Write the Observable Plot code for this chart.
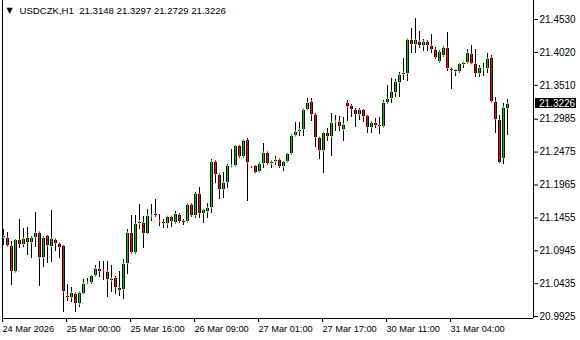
<!DOCTYPE html>
<html><head><meta charset="utf-8">
<script src="https://cdn.jsdelivr.net/npm/d3@7"></script>
<script src="https://cdn.jsdelivr.net/npm/@observablehq/plot@0.6"></script>
<style>
html,body{margin:0;padding:0;background:#fff;overflow:hidden;}
#chart svg{display:block;}
</style></head><body><div id="chart"></div>
<script>
const symbol = "USDCZK";
const timeframe = "H1";
const opens = [21.1146,21.1146,21.1027,21.0613,21.1105,21.1038,21.1146,21.1063,21.1146,21.1224,21.0830,21.1167,21.1001,21.1115,21.1053,21.1012,21.0252,21.0216,21.0278,21.0113,21.0278,21.0433,21.0449,21.0551,21.0666,21.0629,21.0624,21.0474,21.0520,21.0371,21.0340,21.0743,21.1224,21.0908,21.1353,21.1379,21.1208,21.1466,21.1508,21.1404,21.1388,21.1353,21.1466,21.1373,21.1503,21.1399,21.1388,21.1658,21.1481,21.1818,21.1518,21.1543,21.1605,21.2329,21.2123,21.1890,21.1999,21.2241,21.2252,21.2562,21.2396,21.2655,21.2237,21.2252,21.2163,21.2293,21.2464,21.2287,21.2318,21.2355,21.2241,21.2318,21.2438,21.2721,21.2794,21.2825,21.3130,21.3259,21.3053,21.2690,21.2489,21.2768,21.2706,21.2923,21.2949,21.2810,21.3239,21.3182,21.3130,21.3053,21.3120,21.3027,21.2845,21.2929,21.2898,21.2861,21.3233,21.3301,21.3388,21.3543,21.3673,21.3688,21.4215,21.4138,21.4189,21.4112,21.4189,21.4127,21.4065,21.3868,21.3961,21.4091,21.3766,21.3713,21.3713,21.3828,21.3853,21.3988,21.3843,21.3688,21.3750,21.3766,21.3936,21.3259,21.2965,21.2371,21.3148];
const highs = [21.1270,21.1233,21.1089,21.1115,21.1425,21.1295,21.1311,21.1167,21.1543,21.1230,21.1167,21.1170,21.1570,21.1118,21.1063,21.1015,21.0423,21.0381,21.0290,21.0297,21.0500,21.0520,21.0562,21.0717,21.0779,21.0779,21.0779,21.0717,21.0547,21.0624,21.0805,21.1270,21.1492,21.1492,21.1658,21.1481,21.1580,21.1658,21.1735,21.1508,21.1430,21.1477,21.1477,21.1559,21.1518,21.1430,21.1660,21.1673,21.1844,21.1921,21.1580,21.1683,21.2360,21.2332,21.2138,21.2163,21.2283,21.2515,21.2566,21.2577,21.2655,21.2690,21.2240,21.2267,21.2309,21.2603,21.2473,21.2345,21.2407,21.2358,21.2329,21.2448,21.2743,21.2929,21.2929,21.3135,21.3301,21.3310,21.3073,21.2706,21.2783,21.2836,21.3068,21.3042,21.3027,21.3016,21.3270,21.3213,21.3146,21.3146,21.3130,21.3042,21.2949,21.3003,21.3006,21.3275,21.3507,21.3611,21.3595,21.3713,21.3921,21.4218,21.4386,21.4541,21.4349,21.4215,21.4205,21.4298,21.4091,21.4050,21.4112,21.4333,21.3769,21.3750,21.3843,21.3853,21.4060,21.4127,21.4060,21.3817,21.3853,21.4008,21.3972,21.3316,21.3042,21.3223,21.3297];
const lows = [21.1027,21.1010,21.0407,21.0605,21.0985,21.1001,21.0872,21.0830,21.1001,21.0392,21.0691,21.0743,21.0768,21.0934,21.0830,20.9993,21.0164,21.0139,20.9993,21.0061,21.0263,21.0418,21.0418,21.0545,21.0536,21.0485,21.0216,21.0303,21.0263,21.0237,21.0185,21.0573,21.0898,21.0883,21.1270,21.0985,21.1198,21.1399,21.1456,21.1322,21.1286,21.1286,21.1311,21.1363,21.1373,21.1337,21.1385,21.1456,21.1441,21.1450,21.1363,21.1441,21.1528,21.1983,21.1735,21.1751,21.1906,21.2236,21.2241,21.2390,21.2390,21.1709,21.2232,21.2138,21.2160,21.2216,21.2267,21.2225,21.2267,21.2225,21.2174,21.2309,21.2422,21.2718,21.2718,21.2718,21.3120,21.2949,21.2551,21.2360,21.2148,21.2639,21.2407,21.2799,21.2799,21.2644,21.2954,21.3016,21.2861,21.2965,21.2938,21.2763,21.2758,21.2841,21.2740,21.2851,21.3208,21.3233,21.3316,21.3316,21.3585,21.3574,21.3998,21.3998,21.4085,21.4034,21.4034,21.4008,21.3905,21.3843,21.3946,21.3729,21.3440,21.3647,21.3698,21.3766,21.3843,21.3840,21.3636,21.3636,21.3647,21.3698,21.3245,21.2758,21.2305,21.2278,21.2729];
const closes = [21.1167,21.1016,21.0613,21.1105,21.1038,21.1131,21.1063,21.1146,21.1224,21.0830,21.1146,21.1012,21.1131,21.1053,21.0985,21.0303,21.0216,21.0294,21.0113,21.0294,21.0433,21.0449,21.0551,21.0666,21.0613,21.0619,21.0485,21.0511,21.0371,21.0319,21.0743,21.1224,21.0908,21.1353,21.1399,21.1208,21.1492,21.1492,21.1481,21.1384,21.1353,21.1466,21.1388,21.1508,21.1388,21.1397,21.1658,21.1481,21.1818,21.1518,21.1570,21.1611,21.2329,21.2123,21.1890,21.1999,21.2252,21.2267,21.2562,21.2396,21.2652,21.2303,21.2235,21.2154,21.2293,21.2464,21.2283,21.2329,21.2355,21.2241,21.2318,21.2438,21.2732,21.2794,21.2825,21.3132,21.3239,21.3053,21.2696,21.2489,21.2768,21.2706,21.2929,21.2949,21.2861,21.2898,21.3171,21.3124,21.3053,21.3120,21.3016,21.2845,21.2929,21.2887,21.2861,21.3239,21.3301,21.3403,21.3558,21.3673,21.3704,21.4215,21.4138,21.4205,21.4112,21.4189,21.4127,21.4060,21.3936,21.4023,21.4091,21.3766,21.3729,21.3740,21.3833,21.3853,21.4014,21.3843,21.3688,21.3781,21.3766,21.3921,21.3248,21.2975,21.2309,21.3161,21.3226];
const priceTicks = [21.4530,21.4020,21.3510,21.2985,21.2475,21.1965,21.1455,21.0945,21.0435,20.9925];
const timeTickBars = [0,16,32,48,64,80,96,112];
const timeTickLabels = ["24 Mar 2026","25 Mar 00:00","25 Mar 16:00","26 Mar 09:00","27 Mar 01:00","27 Mar 17:00","30 Mar 11:00","31 Mar 04:00"];

const bullColor = "#22b022";
const bearColor = "#d81818";
const candles = opens.map((o,i)=>({i, open:o, high:highs[i], low:lows[i], close:closes[i],
  top: Math.max(o, closes[i]), bottom: Math.min(o, closes[i])}));
const bulls = candles.filter(d => d.close >= d.open);
const bears = candles.filter(d => d.close < d.open);
const last = candles[candles.length-1];
const tickLabel = new Map(timeTickBars.map((b,k)=>[b,timeTickLabels[k]]));
const xDomain = [-0.25, 132.5];
const yDomain = [20.98955, 21.48245];
const font = "Liberation Sans";
const crisp = {shapeRendering: "crispEdges"};

const plot = Plot.plot({
  width: 580, height: 340,
  marginLeft: 2, marginRight: 47, marginTop: 0, marginBottom: 22,
  style: {fontFamily: font, fontSize: "10px", background: "#fff", color: "#000", overflow: "visible"},
  x: {domain: xDomain, label: null},
  y: {domain: yDomain, label: null},
  marks: [
    // wicks
    Plot.ruleX(candles, {x: "i", y1: "low", y2: "high", stroke: "#000", strokeWidth: 1, ...crisp}),
    // body: black 3px column (outline)
    Plot.ruleX(candles, {x: "i", y1: "bottom", y2: "top", stroke: "#000", strokeWidth: 3, insetTop: -0.5, insetBottom: -0.5, ...crisp}),
    // body interior: 1px coloured column
    Plot.ruleX(bulls, {x: "i", y1: "bottom", y2: "top", stroke: bullColor, strokeWidth: 1.2, insetTop: 1, insetBottom: 1}),
    Plot.ruleX(bears, {x: "i", y1: "bottom", y2: "top", stroke: bearColor, strokeWidth: 1.2, insetTop: 1, insetBottom: 1}),
    // frame
    Plot.ruleX([xDomain[0], xDomain[1]], {stroke: "#000", ...crisp}),
    Plot.ruleY([yDomain[0]], {stroke: "#000", ...crisp}),
    Plot.axisY(priceTicks, {anchor: "right", tickSize: 4, tickPadding: 2, textAnchor: "start", label: null,
      tickFormat: d => d.toFixed(4), fontSize: 10, fill: "#000"}),
    Plot.axisX(timeTickBars, {anchor: "bottom", tickSize: 4, tickPadding: 3, textAnchor: "start", label: null,
      tickFormat: d => tickLabel.get(d), fontSize: 9.2, fill: "#000", dx: -1}),
    Plot.text([`${symbol},${timeframe}  ${last.open.toFixed(4)} ${last.high.toFixed(4)} ${last.low.toFixed(4)} ${last.close.toFixed(4)}`],
      {frameAnchor: "top-left", dx: 17, dy: 10, textAnchor: "start", lineAnchor: "middle", fontSize: 9.6, fill: "#000"}),
    Plot.text(["▼"], {frameAnchor: "top-left", dx: 4, dy: 10, textAnchor: "start", lineAnchor: "middle", fontSize: 8, fill: "#000", fontFamily: "DejaVu Sans"})
  ]
});

// current price label on the price axis
const svg = d3.select(plot);
const yScale = plot.scale("y");
const xScale = plot.scale("x");
const yp = Math.round(yScale.apply(last.close));
const xr = xScale.apply(xDomain[1]);
const g = svg.append("g").attr("text-anchor", "start");
g.append("rect").attr("x", xr + 2).attr("y", yp - 5).attr("width", 41).attr("height", 10).attr("fill", "#000");
g.append("text").attr("x", xr + 6).attr("y", yp).attr("dy", "0.35em").attr("text-anchor", "start")
  .attr("fill", "#fff").attr("font-size", 10).attr("font-family", font).text(last.close.toFixed(4));

document.getElementById("chart").appendChild(plot);
</script></body></html>
